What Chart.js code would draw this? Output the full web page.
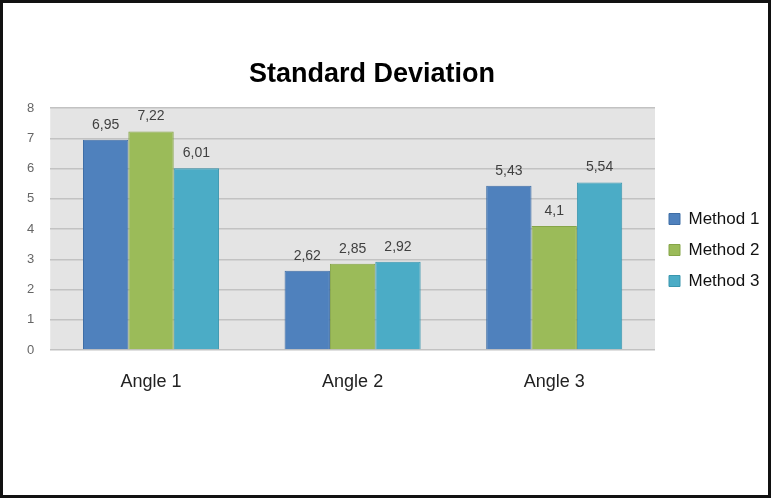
<!DOCTYPE html>
<html>
<head>
<meta charset="utf-8">
<script src="https://cdn.jsdelivr.net/npm/chart.js@4"></script>
<style>
    html, body { margin: 0; padding: 0; background: #fff; }
    #frame {
        width: 771px;
        height: 498px;
        box-sizing: border-box;
        border: 3px solid #111;
        background: #fff;
    }
    #holder { position: relative; width: 765px; height: 492px; }
</style>
</head>
<body>
<div id="frame">
    <div id="holder"><canvas id="sd-chart"></canvas></div>
</div>
<script>
const categories = ['Angle 1', 'Angle 2', 'Angle 3'];
const method1 = [6.95, 2.62, 5.43];
const method2 = [7.22, 2.85, 4.1];
const method3 = [6.01, 2.92, 5.54];
const yTicks = [0, 1, 2, 3, 4, 5, 6, 7, 8];

// fondo gris del área de trazado
const plotBackground = {
    id: 'plotBackground',
    beforeDraw(chart) {
        const { ctx, chartArea } = chart;
        ctx.save();
        ctx.fillStyle = '#e4e4e4';
        ctx.fillRect(chartArea.left, chartArea.top, chartArea.right - chartArea.left, chartArea.bottom - chartArea.top);
        ctx.restore();
    }
};

// etiquetas con coma decimal encima de cada barra
const valueLabels = {
    id: 'valueLabels',
    afterDatasetsDraw(chart) {
        const ctx = chart.ctx;
        ctx.save();
        ctx.font = '14px "Liberation Sans", Arial, sans-serif';
        ctx.fillStyle = '#404040';
        ctx.textAlign = 'center';
        ctx.textBaseline = 'bottom';
        chart.data.datasets.forEach((ds, i) => {
            chart.getDatasetMeta(i).data.forEach((bar, j) => {
                ctx.fillText(String(ds.data[j]).replace('.', ','), bar.x, bar.y - 8);
            });
        });
        ctx.restore();
    }
};

// título centrado como en el original (algo a la izquierda del centro del lienzo)
const chartTitle = {
    id: 'chartTitle',
    afterDraw(chart) {
        const ctx = chart.ctx;
        ctx.save();
        ctx.font = 'bold 27px "Liberation Sans", Arial, sans-serif';
        ctx.fillStyle = '#000';
        ctx.textAlign = 'center';
        ctx.textBaseline = 'middle';
        ctx.fillText('Standard Deviation', 369, 72);
        ctx.restore();
    }
};

const ctx = document.getElementById('sd-chart').getContext('2d');
new Chart(ctx, {
    type: 'bar',
    data: {
        labels: categories,
        datasets: [
            { label: 'Method 1', data: method1, backgroundColor: '#4f81bd', borderColor: '#3f6ea6', borderWidth: 1 },
            { label: 'Method 2', data: method2, backgroundColor: '#9bbb59', borderColor: '#86a548', borderWidth: 1 },
            { label: 'Method 3', data: method3, backgroundColor: '#4bacc6', borderColor: '#3a96ae', borderWidth: 1 }
        ]
    },
    options: {
        responsive: true,
        maintainAspectRatio: false,
        animation: false,
        categoryPercentage: 0.675,
        barPercentage: 1.0,
        layout: {
            padding: { top: 105, bottom: 103, left: 8, right: 0 }
        },
        plugins: {
            title: { display: false },
            tooltip: { enabled: false },
            legend: {
                position: 'right',
                align: 'center',
                maxWidth: 113,
                labels: {
                    boxWidth: 11,
                    boxHeight: 11,
                    padding: 14,
                    color: '#111',
                    font: { size: 17, family: '"Liberation Sans", Arial, sans-serif' }
                }
            }
        },
        scales: {
            x: {
                grid: { display: false },
                border: { display: false },
                // alto fijo del eje para dejar el fondo del gráfico en y=347
                afterFit: (scale) => { scale.height = 42; },
                ticks: {
                    color: '#222',
                    padding: 13,
                    font: { size: 18, family: '"Liberation Sans", Arial, sans-serif' }
                }
            },
            y: {
                min: yTicks[0],
                max: yTicks[yTicks.length - 1],
                afterBuildTicks: (scale) => {
                    scale.ticks = yTicks.map(v => ({ value: v }));
                },
                grid: {
                    color: '#c2c2c2',
                    lineWidth: 1.5,
                    drawTicks: false
                },
                border: { display: false },
                ticks: {
                    color: '#666',
                    padding: 16,
                    font: { size: 13, family: '"Liberation Sans", Arial, sans-serif' }
                }
            }
        }
    },
    plugins: [plotBackground, valueLabels, chartTitle]
});
</script>
</body>
</html>
